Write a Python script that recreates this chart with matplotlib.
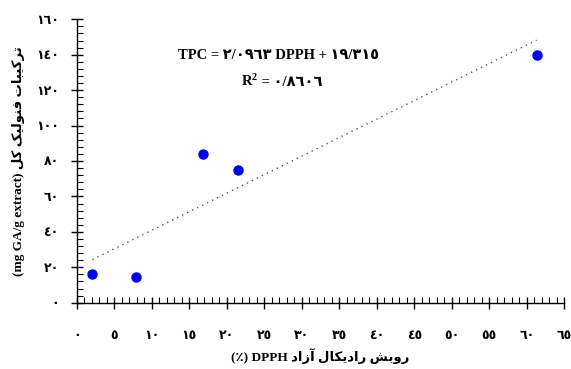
import numpy as np
import matplotlib
matplotlib.use("Agg")
import matplotlib.pyplot as plt
from matplotlib.ticker import MultipleLocator, FuncFormatter

# data
dpph = [2.1, 7.9, 16.9, 21.5, 61.3]
tpc = [16.2, 14.3, 84.0, 74.8, 140.0]
slope_txt = "٢/٠٩٦٣"
intercept_txt = "١٩/٣١٥"
r2_txt = "٠/٨٦٠٦"

# minimal persian shaping (matplotlib has no complex text layout)
FORMS = {
    "ا": "\uFE8D\uFE8E", "آ": "\uFE81\uFE82", "د": "\uFEA9\uFEAA",
    "ر": "\uFEAD\uFEAE", "ز": "\uFEAF\uFEB0", "و": "\uFEED\uFEEE",
    "ب": "\uFE8F\uFE90\uFE91\uFE92", "ت": "\uFE95\uFE96\uFE97\uFE98",
    "ش": "\uFEB5\uFEB6\uFEB7\uFEB8", "ف": "\uFED1\uFED2\uFED3\uFED4",
    "ل": "\uFEDD\uFEDE\uFEDF\uFEE0", "ن": "\uFEE5\uFEE6\uFEE7\uFEE8",
    "ک": "\uFB8E\uFB8F\uFB90\uFB91", "ی": "\uFBFC\uFBFD\uFBFE\uFBFF",
}


def shape(word):
    out = []
    for i, c in enumerate(word):
        f = FORMS[c]
        jp = i > 0 and len(FORMS[word[i - 1]]) == 4
        jn = i < len(word) - 1 and len(f) == 4
        if jp and jn:
            out.append(f[3])
        elif jp:
            out.append(f[1])
        elif jn:
            out.append(f[2])
        else:
            out.append(f[0])
    return "".join(reversed(out))


def fa_digits(v, pos=None):
    return str(int(round(v))).translate(str.maketrans("0123456789", "٠١٢٣٤٥٦٧٨٩"))


# labels in visual (left to right) order
xlabel = " ".join(["(٪)", "DPPH", shape("آزاد"), shape("رادیکال"), shape("روبش")])
ylabel = " ".join(["(mg GA/g extract)", shape("کل"), shape("فنولیک"), shape("ترکیبات")])

fam = ["Liberation Serif", "DejaVu Sans"]
plt.rcParams["font.family"] = fam
plt.rcParams["font.weight"] = "bold"
plt.rcParams["mathtext.fontset"] = "custom"
plt.rcParams["mathtext.rm"] = "Liberation Serif:bold"
plt.rcParams["mathtext.bf"] = "Liberation Serif:bold"
plt.rcParams["mathtext.it"] = "Liberation Serif:bold"

fig = plt.figure(figsize=(5.71, 3.69), dpi=100)
ax = fig.add_axes([0.1343, 0.1797, 0.8540, 0.7680])

ax.plot(dpph, tpc, "o", color="#0000FF", markersize=6.5, zorder=3)
coef = np.polyfit(dpph, tpc, 1)
xx = np.array([min(dpph), max(dpph)])
ax.plot(xx, np.polyval(coef, xx), linestyle=(0, (1, 3)), color="#555555", lw=1.0)

ax.set_xlim(0, 65)
ax.set_ylim(0, 160)
ax.xaxis.set_major_locator(MultipleLocator(5))
ax.xaxis.set_minor_locator(MultipleLocator(1))
ax.yaxis.set_major_locator(MultipleLocator(20))
ax.yaxis.set_minor_locator(MultipleLocator(4))
ax.xaxis.set_major_formatter(FuncFormatter(fa_digits))
ax.yaxis.set_major_formatter(FuncFormatter(fa_digits))

for s in ["top", "right"]:
    ax.spines[s].set_visible(False)
for s in ["left", "bottom"]:
    ax.spines[s].set_linewidth(1.0)

ax.tick_params(which="major", direction="inout", length=8, width=1.0, labelsize=9)
ax.tick_params(which="minor", direction="in", length=4, width=0.8)
ax.tick_params(axis="x", which="major", pad=16)
ax.tick_params(axis="y", which="major", pad=9)

ax.set_xlabel(xlabel, fontsize=9.5, fontweight="bold", labelpad=4)
ax.set_ylabel(ylabel, fontsize=9.5, fontweight="bold", labelpad=8)

ax.text(0.415, 0.874, "TPC = " + slope_txt + " DPPH + " + intercept_txt,
        transform=ax.transAxes, ha="center", va="center", fontsize=10.5, fontweight="bold")
ax.text(0.372, 0.763, "$\\mathbf{R}^{\\mathbf{2}}$",
        transform=ax.transAxes, ha="right", va="baseline", fontsize=10.5)
ax.text(0.372, 0.763, " = " + r2_txt,
        transform=ax.transAxes, ha="left", va="baseline", fontsize=10.5, fontweight="bold")

fig.savefig("out.png", dpi=100)
